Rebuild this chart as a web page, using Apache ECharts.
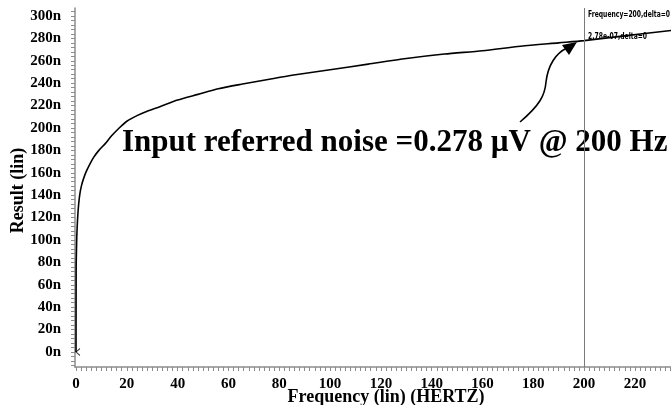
<!DOCTYPE html>
<html>
<head>
<meta charset="utf-8">
<style>
html,body{margin:0;padding:0;background:#fff;}
#chart{width:671px;height:405px;}
</style>
<script src="https://cdn.jsdelivr.net/npm/echarts@6/dist/echarts.min.js"></script>
</head>
<body>
<div id="chart"></div>
<script>
// Frequency (Hz) and integrated input-referred noise (nV)
const freq  = [0, 0.05, 0.15, 0.3, 0.6, 1, 1.5, 2.2, 3, 4, 5.5, 7, 9, 11.5, 14, 17, 20, 24, 28, 33, 40, 48, 56, 65, 75, 85, 100, 115, 130, 145, 160, 175, 190, 200, 215, 234.2];
const noise = [0, 75, 88, 103, 118, 131, 141, 149, 155, 161, 168, 174, 180, 186, 193, 200, 206, 211, 215, 219, 225, 230, 235, 239, 243, 247, 252, 257, 262, 266, 269, 273, 276, 278, 282, 287];

const xTickLabels = [0, 20, 40, 60, 80, 100, 120, 140, 160, 180, 200, 220];
const yTickLabels = [0, 20, 40, 60, 80, 100, 120, 140, 160, 180, 200, 220, 240, 260, 280, 300];

const cursorFreq = 200;
const cursorText1 = 'Frequency=200,delta=0';
const cursorText2 = '2.78e-07,delta=0';
const noteText = 'Input referred noise =0.278 \u00B5V @ 200 Hz';

const xMinor = [];
for (let v = 0; v <= 234; v += 2) xMinor.push(v);
const yMinor = [];
for (let v = -12; v <= 304; v += 4) yMinor.push(v);

const chart = echarts.init(document.getElementById('chart'), null, {renderer: 'canvas'});
const serif = '"Liberation Serif", "Times New Roman", serif';
const axisGray = '#8c8c8c';
const smallFont = 'bold 8px "DejaVu Sans Condensed", "DejaVu Sans", sans-serif';

chart.setOption({
  animation: false,
  backgroundColor: '#fff',
  grid: {left: 75, right: 0, top: 8, bottom: 38, containLabel: false, outerBoundsMode: 'none'},
  xAxis: {
    type: 'value',
    min: -0.4, max: 234.2,
    name: 'Frequency (lin) (HERTZ)',
    nameLocation: 'middle',
    nameGap: 21,
    nameMoveOverlap: false,
    nameTextStyle: {fontFamily: serif, fontWeight: 'bold', fontSize: 18, color: '#000', padding: [0, 0, 0, 26]},
    axisLine: {show: true, onZero: false, lineStyle: {color: axisGray, width: 1.5}},
    axisTick: {show: true, inside: false, length: 4, customValues: xMinor, lineStyle: {color: axisGray}},
    axisLabel: {customValues: xTickLabels, margin: 10, fontFamily: serif, fontWeight: 'bold', fontSize: 15, color: '#000'},
    splitLine: {show: false}
  },
  yAxis: {
    type: 'value',
    min: -13.4, max: 307.1,
    name: 'Result (lin)',
    nameLocation: 'middle',
    nameGap: 48,
    nameMoveOverlap: false,
    nameRotate: 90,
    nameTextStyle: {fontFamily: serif, fontWeight: 'bold', fontSize: 18, color: '#000', padding: [0, 6, 0, 0]},
    axisLine: {show: true, onZero: false, lineStyle: {color: axisGray, width: 1.5}},
    axisTick: {show: true, inside: false, length: 4, customValues: yMinor, lineStyle: {color: axisGray}},
    axisLabel: {customValues: yTickLabels, margin: 14, fontFamily: serif, fontWeight: 'bold', fontSize: 15, color: '#000',
      formatter: v => v + 'n'},
    splitLine: {show: false}
  },
  series: [
    {
      type: 'line',
      data: freq.map((f, i) => [f, noise[i]]),
      showSymbol: false,
      symbol: 'none',
      smooth: 0.25,
      lineStyle: {color: '#000', width: 1.6},
      markLine: {
        silent: true,
        symbol: 'none',
        label: {show: false},
        lineStyle: {color: '#7a7a7a', width: 1, type: 'solid'},
        data: [{xAxis: cursorFreq}]
      }
    },
    {
      type: 'scatter',
      data: [[freq[0], noise[0]]],
      symbol: 'path://M8,0 L0,5 L8,10',
      symbolSize: [4, 7],
      symbolOffset: [2, 0],
      itemStyle: {color: 'transparent', borderColor: '#000', borderWidth: 1}
    }
  ],
  graphic: [
    {type: 'text', x: 122, y: 143, style: {text: noteText, font: 'bold 31px ' + serif, fill: '#000', verticalAlign: 'middle', align: 'left'}},
    {type: 'bezierCurve', shape: {x1: 520, y1: 122, cpx1: 540, cpy1: 105, cpx2: 545, cpy2: 95, x2: 546, y2: 82}, style: {stroke: '#000', lineWidth: 1.6, fill: null}},
    {type: 'bezierCurve', shape: {x1: 546, y1: 82, cpx1: 548, cpy1: 65, cpx2: 556, cpy2: 53, x2: 567, y2: 48}, style: {stroke: '#000', lineWidth: 1.6, fill: null}},
    {type: 'polygon', shape: {points: [[577, 42], [562, 45], [569, 55]]}, style: {fill: '#000'}},
    {type: 'text', x: 588, y: 15, scaleX: 0.84, style: {text: cursorText1, font: smallFont, fill: '#000', verticalAlign: 'middle', align: 'left'}},
    {type: 'text', x: 588, y: 37, scaleX: 0.84, style: {text: cursorText2, font: smallFont, fill: '#000', verticalAlign: 'middle', align: 'left'}}
  ]
});
</script>
</body>
</html>
